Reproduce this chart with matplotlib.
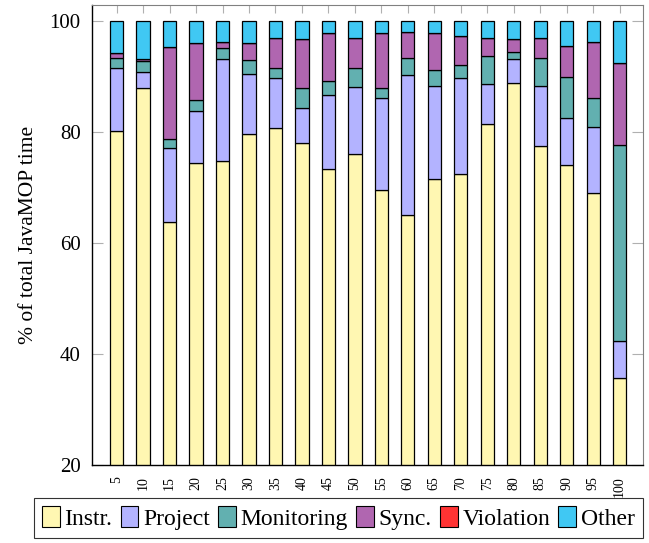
import numpy as np
import matplotlib.pyplot as plt
from matplotlib.patches import Patch

plt.rcParams['font.family'] = ['Liberation Serif', 'DejaVu Serif']

# overhead share per run (cumulative tops read as stacked percentages)
runs = ["5", "10", "15", "20", "25", "30", "35", "40", "45", "50",
        "55", "60", "65", "70", "75", "80", "85", "90", "95", "100"]
instr = [80.2, 87.9, 63.8, 74.5, 74.8, 79.7, 80.8, 78.1, 73.3, 76.0,
         69.5, 65.1, 71.6, 72.5, 81.4, 88.9, 77.5, 74.1, 69.1, 35.6]
project = [11.3, 2.9, 13.4, 9.3, 18.3, 10.7, 8.9, 6.2, 13.4, 12.2,
           16.6, 25.1, 16.7, 17.2, 7.3, 4.3, 10.8, 8.5, 11.9, 6.7]
monitoring = [1.9, 2.0, 1.5, 2.0, 2.0, 2.5, 1.8, 3.7, 2.5, 3.3,
              1.8, 3.1, 2.8, 2.3, 5.0, 1.2, 5.1, 7.4, 5.1, 35.4]
sync = [0.8, 0.4, 16.7, 10.2, 1.2, 3.1, 5.5, 8.8, 8.6, 5.5,
        9.9, 4.8, 6.7, 5.4, 3.3, 2.4, 3.6, 5.6, 10.2, 14.7]
violation = [0.0] * 20
other = [5.8, 6.8, 4.6, 4.0, 3.7, 4.0, 3.0, 3.2, 2.2, 3.0,
         2.2, 1.9, 2.2, 2.6, 3.0, 3.2, 3.0, 4.4, 3.7, 7.6]

series = [("Instr.", instr, "#fff7b2"),
          ("Project", project, "#b3b3ff"),
          ("Monitoring", monitoring, "#62b0b0"),
          ("Sync.", sync, "#b066b0"),
          ("Violation", violation, "#ff3333"),
          ("Other", other, "#40c8f3")]

fig = plt.figure(figsize=(6.49, 5.43), dpi=100)
ax = fig.add_axes([0.1413, 0.1436, 0.8499, 0.8472])

x = np.arange(len(runs))
bottom = np.zeros(len(runs))
handles = []
for name, vals, col in series:
    vals = np.array(vals)
    ax.bar(x, vals, 0.5, bottom=bottom, color=col, edgecolor="black",
           linewidth=0.9, zorder=2)
    bottom += vals
    handles.append(Patch(facecolor=col, edgecolor="black", linewidth=0.8, label=name))

ax.set_xlim(-0.94, 19.89)
ax.set_ylim(20, 102.9)
ax.set_yticks([20, 40, 60, 80, 100])
ax.set_xticks(x)
ax.set_xticklabels(runs, rotation=90, fontsize=10)
ax.tick_params(axis="y", labelsize=15, direction="in", length=8, color="#b0b0b0",
               right=True, pad=8)
ax.tick_params(axis="x", direction="in", length=6, color="#b0b0b0", top=True, pad=8)
ax.set_ylabel("% of total JavaMOP time", fontsize=15.5, labelpad=8)

for side in ["top", "right"]:
    ax.spines[side].set_color("#808080")
for side in ["left", "bottom"]:
    ax.spines[side].set_color("black")
    ax.spines[side].set_linewidth(1.0)

leg = fig.legend(handles=handles, loc="upper left", bbox_to_anchor=(0.052, 0.083),
                 ncol=6, fontsize=17, frameon=True, fancybox=False,
                 edgecolor="black", handlelength=0.75, handleheight=1.0,
                 handletextpad=0.2, columnspacing=0.35, borderpad=0.35,
                 borderaxespad=0)
leg.get_frame().set_linewidth(0.8)

fig.savefig("out.png", dpi=100)
